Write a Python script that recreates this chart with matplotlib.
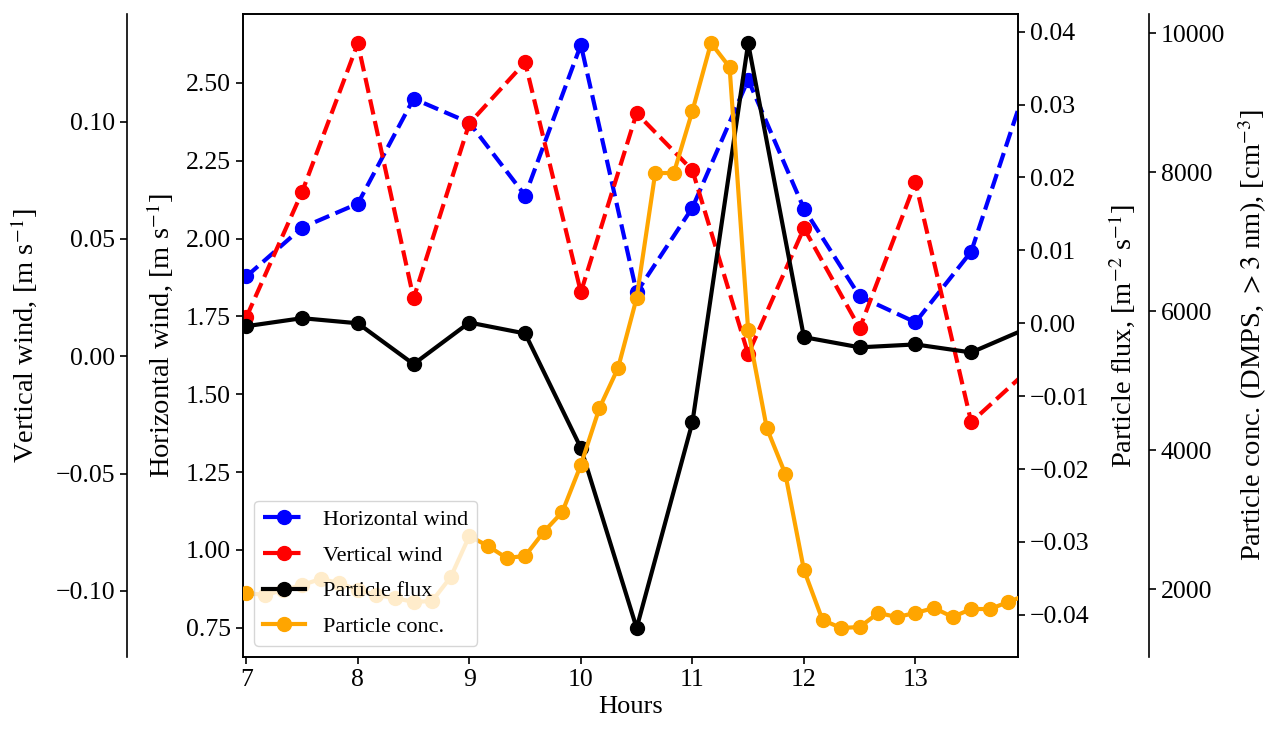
import numpy as np
import matplotlib
matplotlib.use("Agg")
from matplotlib import pyplot as plt
from matplotlib.ticker import FuncFormatter

plt.rcParams['font.family'] = ['Liberation Serif', 'DejaVu Serif']
plt.rcParams['mathtext.fontset'] = 'stix'
plt.rcParams['font.size'] = 18.5
plt.rcParams['axes.labelsize'] = 20.5
plt.rcParams['axes.linewidth'] = 1.2
plt.rcParams['xtick.major.size'] = 5
plt.rcParams['ytick.major.size'] = 5
plt.rcParams['xtick.major.width'] = 1.2
plt.rcParams['ytick.major.width'] = 1.2

# half-hourly wind and flux
hours = [7.0, 7.5, 8.0, 8.5, 9.0, 9.5, 10.0, 10.5, 11.0, 11.5, 12.0, 12.5, 13.0, 13.5, 14.0]
hor_wind = [1.878, 2.035, 2.112, 2.449, 2.372, 2.138, 2.622, 1.827, 2.099, 2.51,
            2.096, 1.814, 1.731, 1.958, 2.50]
ver_wind = [0.0166, 0.070, 0.1334, 0.0247, 0.0993, 0.1253, 0.0273, 0.1036, 0.0793, 0.0009,
            0.0546, 0.0119, 0.0742, -0.0281, -0.0064]
flux = [-0.0004, 0.0007, 0.0000, -0.0056, 0.0001, -0.0014, -0.0171, -0.0418, -0.0136, 0.0384,
        -0.0019, -0.0033, -0.0029, -0.0040, -0.0007]

# 10-min DMPS concentration
conc_hours = [7 + k / 6 for k in range(43)]
conc = [1947, 1918, 1990, 2062, 2148, 2091, 1990, 1918, 1875, 1817, 1832, 2177,
        2767, 2623, 2451, 2479, 2825, 3112, 3789, 4609, 5184, 6191, 7990, 7990,
        8882, 9860, 9514, 5731, 4321, 3659, 2278, 1558, 1443, 1457, 1659, 1601,
        1659, 1731, 1601, 1716, 1716, 1817, 1925]


def fmt2(x, pos):
    s = '%.2f' % x
    if s == '-0.00':
        s = '0.00'
    return s.replace('-', '\u2212')


fig = plt.figure(figsize=(12.74, 7.38), dpi=100)
ax1 = fig.add_axes([0.1907, 0.1098, 0.6084, 0.8712])
ax2 = ax1.twinx()
ax3 = ax1.twinx()
ax4 = ax1.twinx()

l1, = ax1.plot(hours, hor_wind, color='blue', ls='--', lw=3, marker='o', ms=10,
               label='Horizontal wind')
l2, = ax2.plot(hours, ver_wind, color='red', ls='--', lw=3, marker='o', ms=10,
               label='Vertical wind')
l3, = ax3.plot(hours, flux, color='black', lw=3, marker='o', ms=10, label='Particle flux')
l4, = ax4.plot(conc_hours, conc, color='orange', lw=3, marker='o', ms=10,
               label='Particle conc.')

ax1.set_xlim(6.97, 13.92)
ax1.set_xticks([7, 8, 9, 10, 11, 12, 13])
ax1.set_ylim(0.656, 2.721)
ax1.set_yticks([0.75, 1.0, 1.25, 1.5, 1.75, 2.0, 2.25, 2.5])
ax1.yaxis.set_major_formatter(FuncFormatter(fmt2))
ax1.set_xlabel('Hours', fontsize=19)
ax1.set_ylabel('Horizontal wind, [m s$^{-1}$]', labelpad=8)

# vertical wind on an offset left spine
ax2.set_ylim(-0.1282, 0.1459)
ax2.set_yticks([-0.10, -0.05, 0.0, 0.05, 0.10])
ax2.yaxis.set_major_formatter(FuncFormatter(fmt2))
ax2.spines['left'].set_position(('axes', -0.1497))
ax2.spines['left'].set_visible(True)
ax2.spines['right'].set_visible(False)
ax2.spines['top'].set_visible(False)
ax2.spines['bottom'].set_visible(False)
ax2.yaxis.set_ticks_position('left')
ax2.yaxis.set_label_position('left')
ax2.set_ylabel('Vertical wind, [m s$^{-1}$]', labelpad=12)

ax3.set_ylim(-0.04577, 0.04242)
ax3.set_yticks([-0.04, -0.03, -0.02, -0.01, 0.0, 0.01, 0.02, 0.03, 0.04])
ax3.yaxis.set_major_formatter(FuncFormatter(fmt2))
ax3.set_ylabel('Particle flux, [m$^{-2}$ s$^{-1}$]', labelpad=12)

ax4.set_ylim(1026, 10278)
ax4.set_yticks([2000, 4000, 6000, 8000, 10000])
ax4.spines['right'].set_position(('axes', 1.169))
ax4.spines['top'].set_visible(False)
ax4.spines['bottom'].set_visible(False)
ax4.spines['left'].set_visible(False)
ax4.set_ylabel('Particle conc. (DMPS, $>3$ nm), [cm$^{-3}$]', labelpad=8)

ax4.legend(handles=[l1, l2, l3, l4], loc='lower left', fontsize=16, labelspacing=0.68,
           handlelength=1.9)

fig.savefig('out.png', dpi=100)
